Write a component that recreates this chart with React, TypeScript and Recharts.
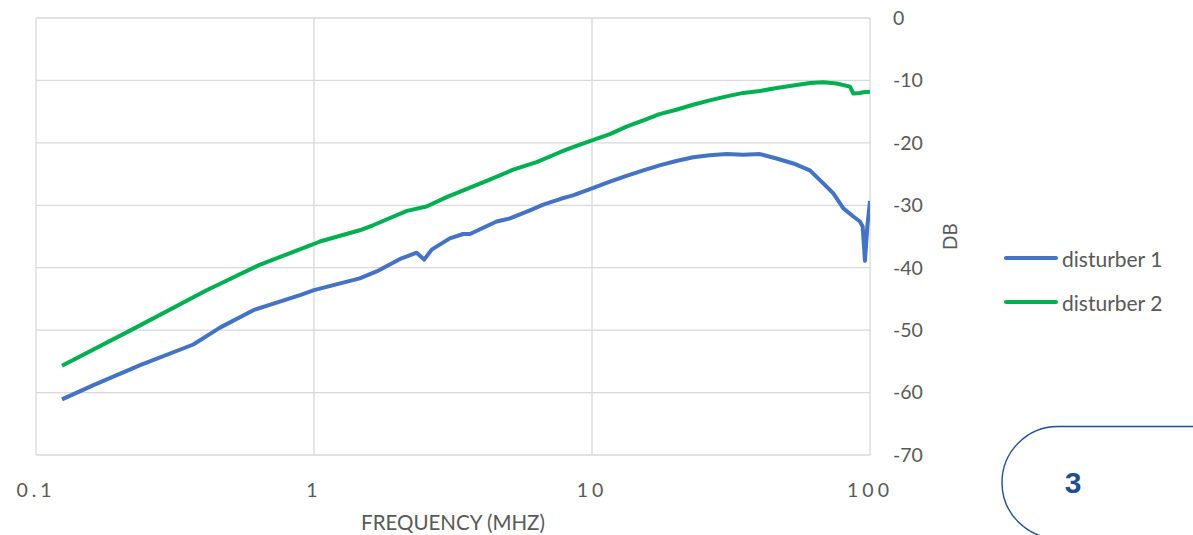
import { LineChart, Line, XAxis, YAxis, CartesianGrid } from 'recharts'

// frequency (MHz) / crosstalk (dB) readings, disturber 1
const d1Freq = [
  0.124, 0.161, 0.237, 0.368, 0.459, 0.605, 0.891, 1.0, 1.46, 1.68, 2.04, 2.16, 2.34, 2.49, 2.65,
  3.08, 3.44, 3.64, 4.54, 5.07, 5.98, 6.68, 7.67, 8.54, 10, 11.6, 13.3, 15.3, 17.5, 20.1, 23.1,
  26.5, 30.5, 35.0, 40.2, 46.1, 53.0, 60.8, 67.9, 73.8, 80.2, 87.1, 92.0, 94.1, 95.9, 97.8, 100,
]
const d1Db = [
  -61.1, -58.8, -55.6, -52.3, -49.6, -46.8, -44.4, -43.6, -41.7, -40.6, -38.6, -38.2, -37.6, -38.7,
  -37.1, -35.3, -34.6, -34.6, -32.6, -32.1, -30.8, -29.9, -29.0, -28.4, -27.3, -26.2, -25.3, -24.4,
  -23.6, -22.9, -22.3, -22.0, -21.8, -21.9, -21.8, -22.5, -23.3, -24.4, -26.5, -28.1, -30.5, -31.8,
  -32.6, -33.4, -38.9, -33.4, -29.3,
]

// disturber 2
const d2Freq = [
  0.124, 0.224, 0.411, 0.64, 1.0, 1.05, 1.46, 1.63, 2.16, 2.54, 3.0, 4.18, 5.21, 6.32, 7.67, 8.54,
  10, 11.6, 13.3, 15.3, 17.5, 20.1, 23.1, 26.5, 30.5, 35.0, 40.2, 46.1, 53.0, 60.8, 67.9, 75.9,
  84.7, 87.1, 92.0, 94.6, 100,
]
const d2Db = [
  -55.7, -49.8, -43.6, -39.5, -36.2, -35.8, -34.0, -33.2, -30.9, -30.2, -28.7, -26.1, -24.3, -23.1,
  -21.5, -20.7, -19.6, -18.6, -17.4, -16.4, -15.4, -14.7, -13.9, -13.2, -12.55, -12.0, -11.7, -11.2,
  -10.8, -10.4, -10.3, -10.5, -11.0, -12.1, -12.0, -11.9, -11.8,
]

const seriesNames = ['disturber 1', 'disturber 2']
const seriesColors = ['#4472C4', '#00B050']

const xTicks = [0.1, 1, 10, 100]
const yTicks = [0, -10, -20, -30, -40, -50, -60, -70]

const toPoints = (freq: number[], db: number[]) => freq.map((f, i) => ({ f, db: db[i] }))

const series = [toPoints(d1Freq, d1Db), toPoints(d2Freq, d2Db)]

const FONT = 'Lato, "Open Sans", sans-serif'
const TEXT = '#595959'

function ChartLegend() {
  return (
    <div
      style={{
        position: 'absolute',
        left: 1004,
        top: 236,
        fontFamily: FONT,
        fontSize: 21,
        color: TEXT,
      }}
    >
      {seriesNames.map((name, i) => (
        <div key={name} style={{ display: 'flex', alignItems: 'center', height: 44 }}>
          <span
            style={{
              display: 'inline-block',
              width: 54,
              height: 4,
              borderRadius: 2,
              background: seriesColors[i],
              marginRight: 4,
            }}
          />
          <span>{name}</span>
        </div>
      ))}
    </div>
  )
}

export default function App() {
  return (
    <div style={{ position: 'absolute', left: 0, top: 0, width: 1193, height: 535, background: '#fff' }}>
      <LineChart
        width={1193}
        height={535}
        margin={{ top: 18, right: 163, bottom: 0, left: 36 }}
        style={{ fontFamily: FONT }}
      >
        <CartesianGrid stroke="#d9d9d9" strokeWidth={1.3} />
        <XAxis
          dataKey="f"
          type="number"
          scale="log"
          domain={[0.1, 100]}
          ticks={xTicks}
          allowDataOverflow
          height={80}
          axisLine={false}
          tickLine={false}
          tickMargin={22}
          tickFormatter={(v: number) => String(v)}
          tick={{ fill: TEXT, fontSize: 19.5, fontFamily: FONT, letterSpacing: 4 }}
          label={{
            value: 'FREQUENCY (MHZ)',
            position: 'insideBottom',
            offset: 5,
            fill: TEXT,
            fontSize: 20.5,
            fontFamily: FONT,
          }}
        />
        <YAxis
          orientation="right"
          domain={[-70, 0]}
          ticks={yTicks}
          width={160}
          axisLine={false}
          tickLine={false}
          tickMargin={17}
          tick={{ fill: TEXT, fontSize: 19.5, fontFamily: FONT }}
          label={{ value: 'DB', angle: -90, position: 'center', fill: TEXT, fontSize: 19, fontFamily: FONT }}
        />
        {series.map((pts, i) => (
          <Line
            key={seriesNames[i]}
            data={pts}
            dataKey="db"
            name={seriesNames[i]}
            type="linear"
            stroke={seriesColors[i]}
            strokeWidth={4}
            strokeLinejoin="round"
            dot={false}
            isAnimationActive={false}
          />
        ))}
      </LineChart>
      <ChartLegend />
      <svg
        width={203}
        height={115}
        style={{ position: 'absolute', left: 990, top: 420, pointerEvents: 'none' }}
      >
        <path d="M 203 6.5 H 68 A 56 56 0 0 0 68 118.5" fill="none" stroke="#1f4e91" strokeWidth={1.4} />
        <text
          x={83}
          y={62}
          textAnchor="middle"
          dominantBaseline="central"
          fill="#1f4e91"
          fontSize={30}
          fontWeight="bold"
          fontFamily='"Liberation Sans", Arial, sans-serif'
        >
          3
        </text>
      </svg>
    </div>
  )
}
